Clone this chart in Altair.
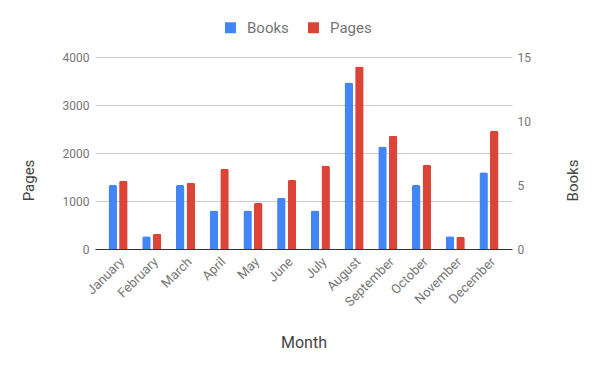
import altair as alt
import pandas as pd

months = ["January", "February", "March", "April", "May", "June", "July",
          "August", "September", "October", "November", "December"]
books = [5, 1, 5, 3, 3, 4, 3, 13, 8, 5, 1, 6]
pages = [1420, 320, 1380, 1670, 960, 1440, 1735, 3800, 2360, 1755, 255, 2465]
series = ["Books", "Pages"]
colors = ["#4285F4", "#DB4437"]

df = pd.DataFrame({"Month": months, "Books": books, "Pages": pages})

FONT = "Roboto"
base = alt.Chart(df).transform_fold(series, as_=["Series", "Value"])

x = alt.X("Month:N", sort=months, title="Month",
          scale=alt.Scale(paddingInner=0.433, paddingOuter=0.4),
          axis=alt.Axis(labelAngle=-45, ticks=False, domainColor="#333333",
                        labelColor="#757575", labelFontSize=13, labelPadding=6,
                        titleColor="#444444", titleFontSize=16, titleFontWeight="normal",
                        titleBaseline="middle", titleY=93))
xoff = alt.XOffset("Series:N", scale=alt.Scale(domain=series, paddingInner=0.2))
color = alt.Color("Series:N", scale=alt.Scale(domain=series, range=colors),
                  legend=alt.Legend(orient="none", legendX=128, legendY=-37,
                                    direction="horizontal", title=None,
                                    symbolType="square", symbolSize=121,
                                    symbolStrokeWidth=0, labelFontSize=15,
                                    labelColor="#757575", columnPadding=17,
                                    labelOffset=9, padding=0))

bar = dict(cornerRadiusTopLeft=2, cornerRadiusTopRight=2)

pages_layer = base.transform_filter("datum.Series == 'Pages'").mark_bar(**bar).encode(
    x=x, xOffset=xoff, color=color,
    y=alt.Y("Value:Q", title="Pages", scale=alt.Scale(domain=[0, 4000]),
            axis=alt.Axis(orient="left", values=[0, 1000, 2000, 3000, 4000], format="d",
                          ticks=False, domain=False, gridColor="#cccccc",
                          labelColor="#757575", labelFontSize=12, labelPadding=6,
                          titleColor="#444444", titleFontSize=15,
                          titleFontWeight="normal", titleBaseline="middle",
                          titleX=-67, titleY=123)))

books_layer = base.transform_filter("datum.Series == 'Books'").mark_bar(**bar).encode(
    x=x, xOffset=xoff, color=color,
    y=alt.Y("Value:Q", title="Books", scale=alt.Scale(domain=[0, 15]),
            axis=alt.Axis(orient="right", values=[0, 5, 10, 15], grid=False, format="d",
                          ticks=False, domain=False,
                          labelColor="#757575", labelFontSize=12, labelPadding=5,
                          titleColor="#444444", titleFontSize=15, titleAngle=270,
                          titleFontWeight="normal", titleBaseline="middle",
                          titleX=60, titleY=123)))

chart = alt.layer(pages_layer, books_layer).resolve_scale(y="independent").properties(
    width=417, height=192,
    autosize=alt.AutoSizeParams(type="none"),
    padding={"left": 87, "top": 49, "right": 75, "bottom": 110}
).configure(font=FONT).configure_view(stroke=None)

chart.save("out.html", embed_options={"renderer": "svg", "actions": False})
